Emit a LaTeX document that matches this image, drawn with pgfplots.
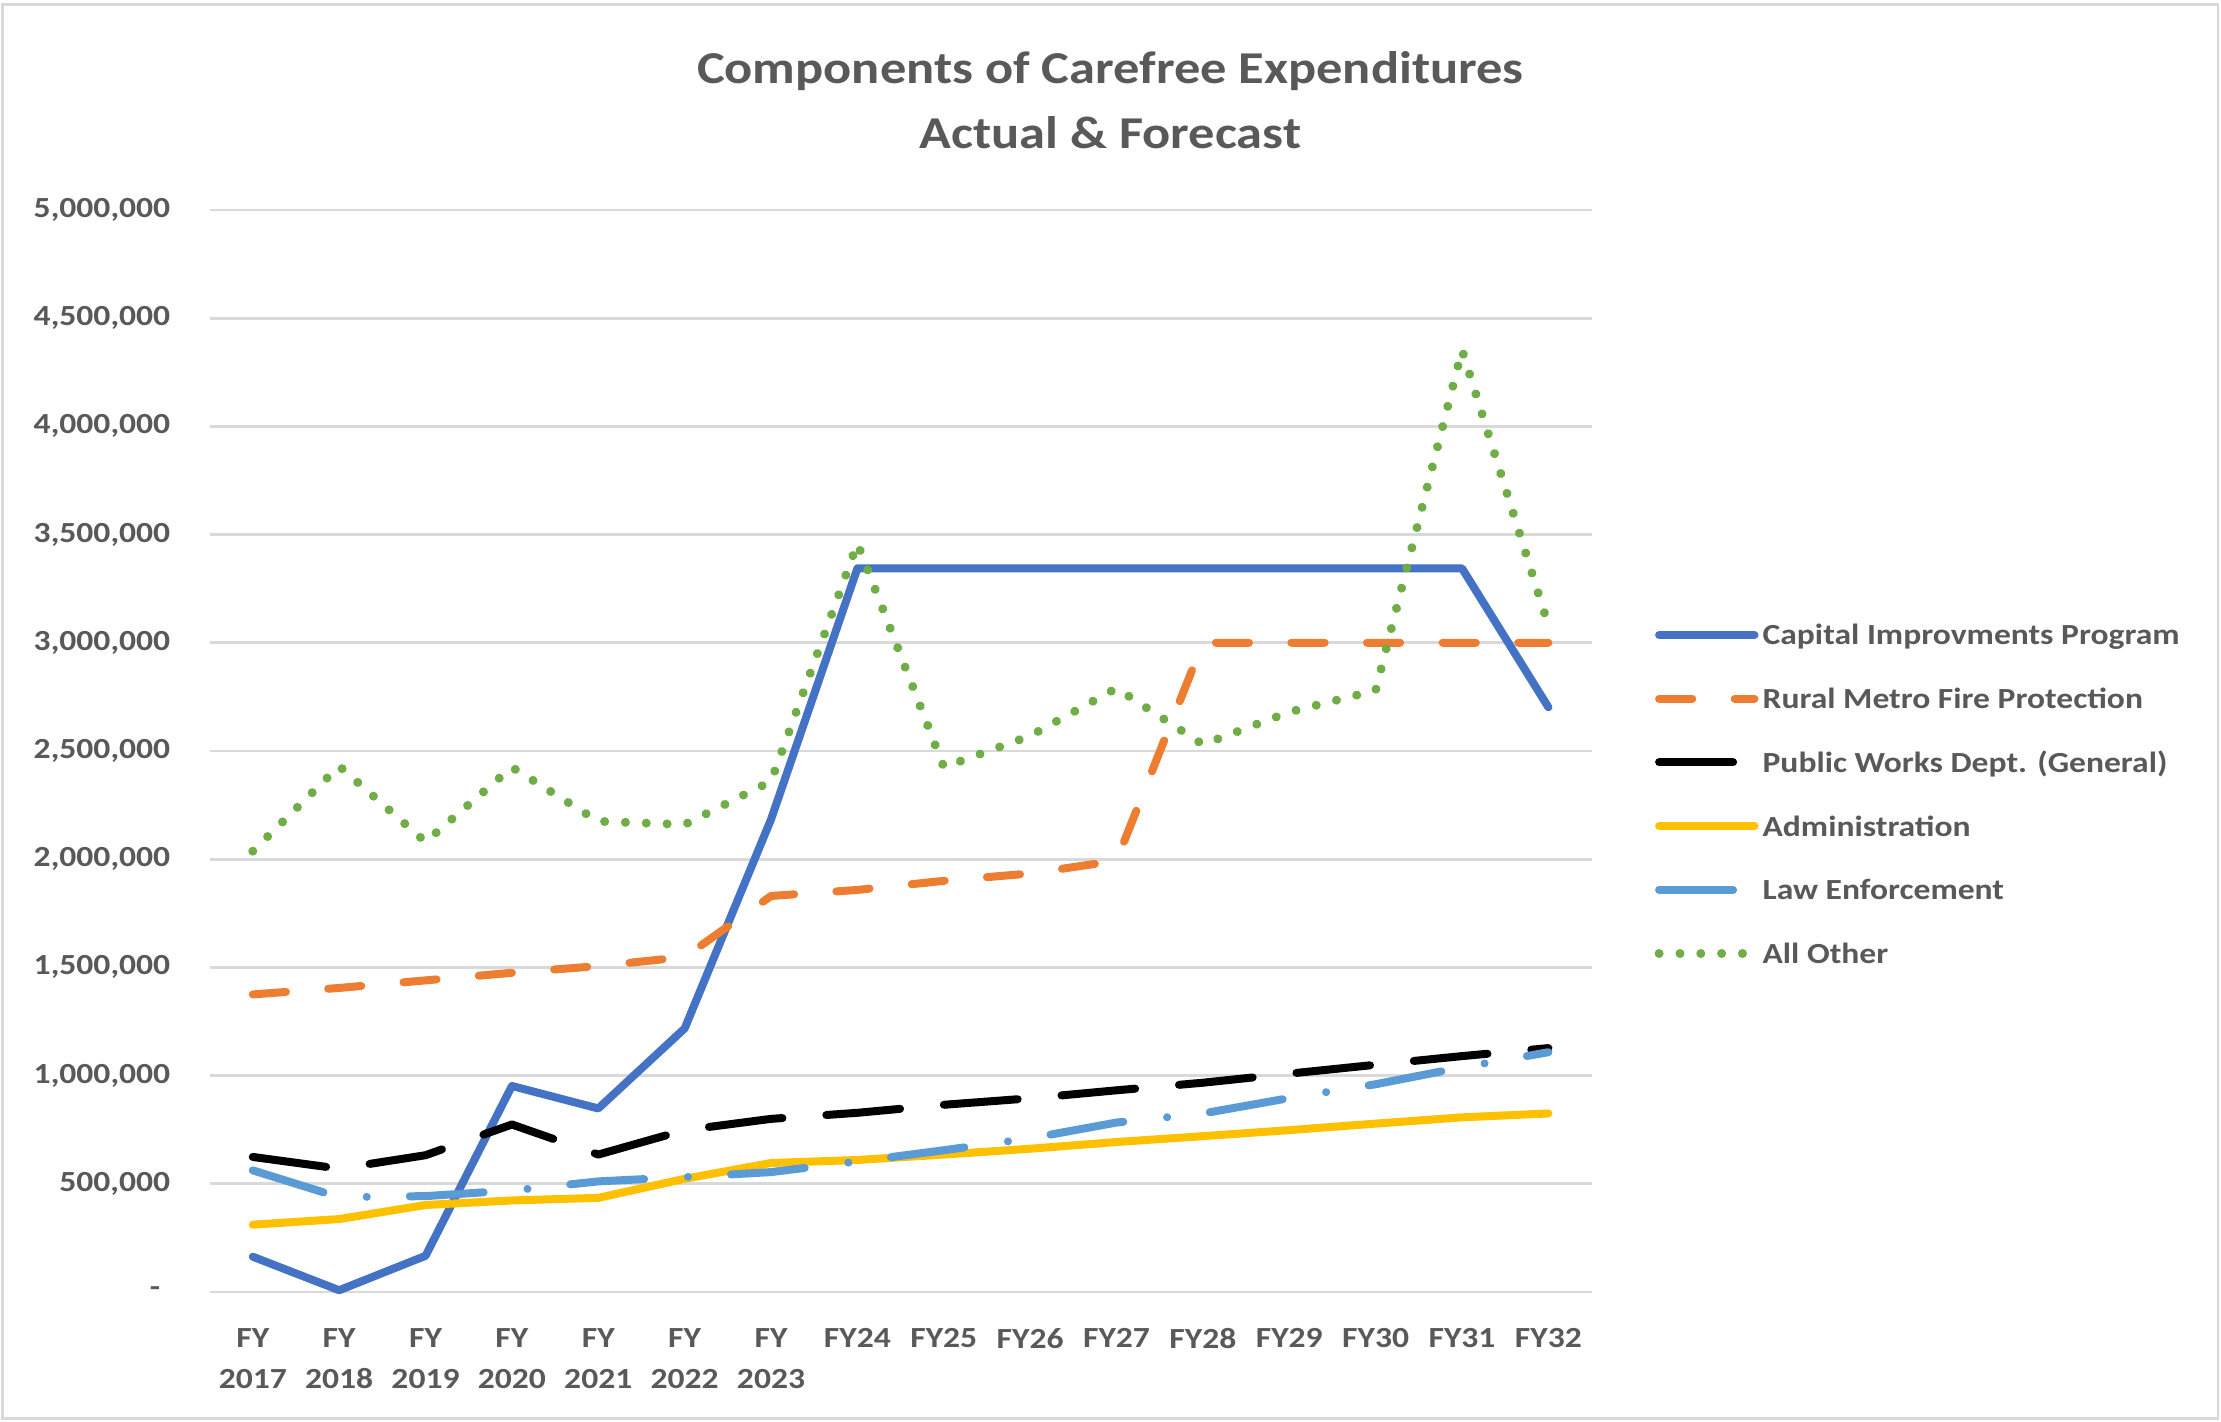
\documentclass[border=0pt]{standalone}
\usepackage{pgfplots}
\pgfplotsset{compat=1.18}
\usepackage{fontspec}
\setmainfont{Carlito}[FakeStretch=1.15]
\definecolor{txt}{HTML}{595959}
\definecolor{gridc}{HTML}{D9D9D9}
\definecolor{cBlue}{HTML}{4472C4}
\definecolor{cOrange}{HTML}{ED7D31}
\definecolor{cYellow}{HTML}{FFC000}
\definecolor{cLBlue}{HTML}{5B9BD5}
\definecolor{cGreen}{HTML}{70AD47}
\begin{document}
\begin{tikzpicture}
\path[use as bounding box] (0pt,0pt) rectangle (555.25pt,355.5pt);
\draw[gridc, line width=0.7pt] (0.6pt,0.9pt) rectangle (554.5pt,354.4pt);
\node[anchor=base, font=\fontsize{11.4}{14}\selectfont\bfseries, text=txt, inner sep=0pt] at (277.6pt,334.7pt) {Components of Carefree Expenditures};
\node[anchor=base, font=\fontsize{11.4}{14}\selectfont\bfseries, text=txt, inner sep=0pt] at (277.6pt,318.4pt) {Actual \& Forecast};
\begin{axis}[
  at={(52.4pt,32.5pt)}, anchor=south west,
  width=345.5pt, height=270.5pt, scale only axis,
  xmin=-0.5, xmax=15.5, ymin=0, ymax=5000000,
  clip=false,
  axis line style={draw=none},
  major tick length=0pt,
  tick style={draw=none},
  ymajorgrids, grid style={gridc, line width=0.7pt},
  scaled y ticks=false,
  ytick={0,500000,1000000,1500000,2000000,2500000,3000000,3500000,4000000,4500000,5000000},
  yticklabels={{-\rule{2.5pt}{0pt}},{500,000},{1,000,000},{1,500,000},{2,000,000},{2,500,000},{3,000,000},{3,500,000},{4,000,000},{4,500,000},{5,000,000}},
  xtick={0,1,2,3,4,5,6,7,8,9,10,11,12,13,14,15},
  xticklabels={{FY\\2017},{FY\\2018},{FY\\2019},{FY\\2020},{FY\\2021},{FY\\2022},{FY\\2023},{FY24},{FY25},{FY26},{FY27},{FY28},{FY29},{FY30},{FY31},{FY32}},
  ticklabel style={font=\fontsize{7.3}{10.15}\selectfont\bfseries, text=txt, inner sep=0pt},
  xticklabel style={align=center, anchor=north, yshift=-9pt},
  yticklabel style={anchor=east, xshift=-9.65pt},
  legend cell align=left,
  legend style={at={(1.0456,0.6165)}, anchor=north west, draw=none, fill=none,
    inner sep=0pt, outer sep=0pt, row sep=10.93pt, column sep=0.9pt,
    font=\fontsize{7.3}{9}\selectfont\bfseries, text=txt,
    nodes={inner sep=0pt, text height=5pt, text depth=0pt}},
  legend image code/.code={\draw[#1] (0pt,0pt) -- (23.85pt,0pt);},
  every axis plot/.append style={line join=round, line cap=round},
]
\addplot[cBlue, line width=2pt] coordinates {
(0,163000)(1,8000)(2,167000)(3,952000)(4,848000)(5,1218000)(6,2184000)(7,3344000)
(8,3344000)(9,3344000)(10,3344000)(11,3344000)(12,3344000)(13,3344000)(14,3344000)(15,2702000)};
\addlegendentry{Capital Improvments Program}
\addplot[cOrange, line width=2pt, dash pattern=on 8.3pt off 10.6pt] coordinates {
(0,1375000)(1,1405000)(2,1440000)(3,1475000)(4,1506000)(5,1548000)(6,1830000)(7,1858000)
(8,1900000)(9,1934000)(10,1993000)(11,3000000)(12,3000000)(13,3000000)(14,3000000)(15,3000000)};
\addlegendentry{Rural Metro Fire Protection}
\addplot[black, line width=2pt, dash pattern=on 18.5pt off 11pt] coordinates {
(0,624000)(1,570000)(2,632000)(3,774000)(4,635000)(5,748000)(6,800000)(7,828000)
(8,865000)(9,895000)(10,932000)(11,967000)(12,1009000)(13,1050000)(14,1090000)(15,1127000)};
\addlegendentry{Public Works Dept. (General)}
\addplot[cYellow, line width=2pt] coordinates {
(0,311000)(1,337000)(2,402000)(3,423000)(4,435000)(5,523000)(6,596000)(7,610000)
(8,635000)(9,662000)(10,693000)(11,720000)(12,748000)(13,778000)(14,807000)(15,825000)};
\addlegendentry{Administration}
\addplot[cLBlue, line width=2pt, dash pattern=on 18.5pt off 11pt on 0.01pt off 10.75pt] coordinates {
(0,562000)(1,438000)(2,443000)(3,469000)(4,511000)(5,531000)(6,554000)(7,603000)
(8,655000)(9,710000)(10,783000)(11,825000)(12,896000)(13,960000)(14,1038000)(15,1108000)};
\addlegendentry{Law Enforcement}
\addplot[cGreen, line width=2.25pt, dash pattern=on 0.01pt off 5.2pt] coordinates {
(0,2037000)(1,2430000)(2,2080000)(3,2425000)(4,2175000)(5,2160000)(6,2360000)(7,3460000)
(8,2425000)(9,2570000)(10,2790000)(11,2530000)(12,2680000)(13,2780000)(14,4353000)(15,3080000)};
\addlegendentry{All Other}
\end{axis}
\end{tikzpicture}
\end{document}
